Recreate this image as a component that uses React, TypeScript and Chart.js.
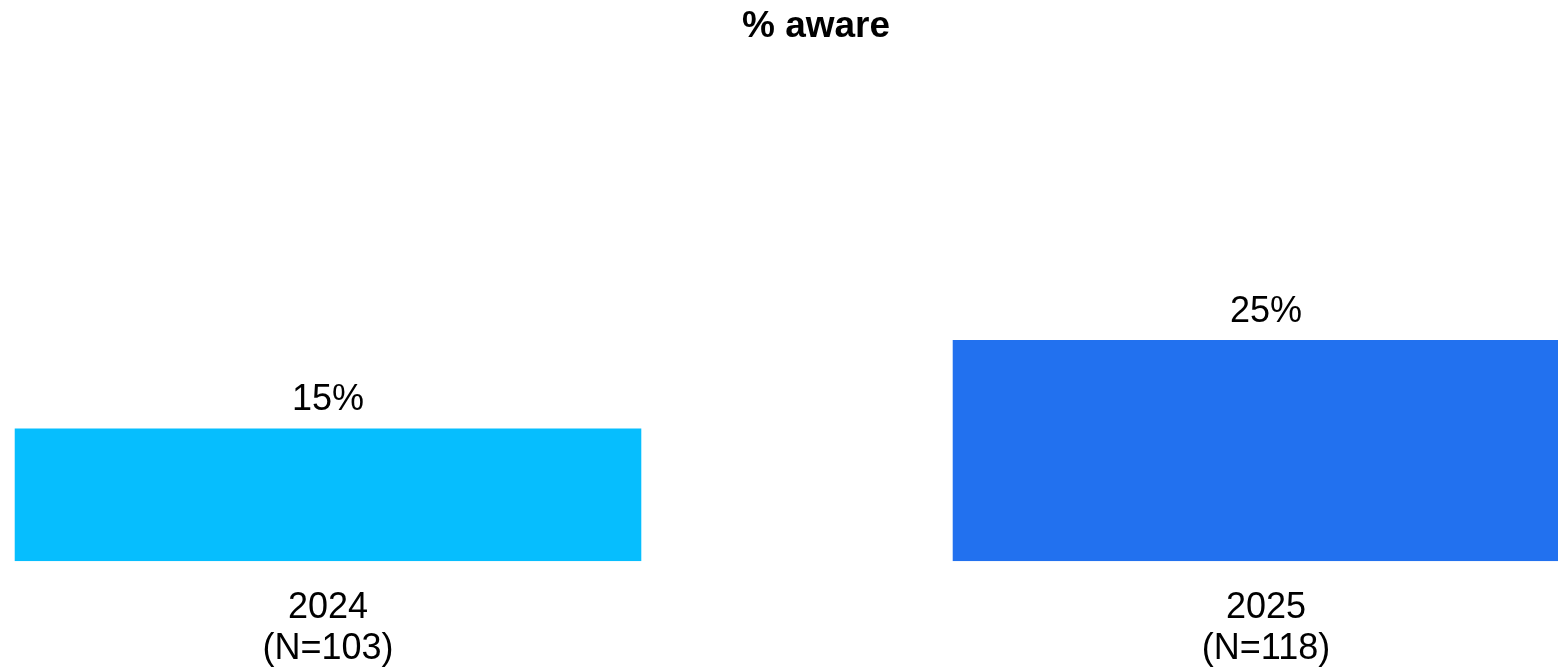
import { useEffect, useRef } from "react";
import { Chart, registerables } from "chart.js";

Chart.register(...registerables);

const titleText = "% aware";
const categories = ["2024", "2025"];
const sampleSizes = [103, 118];
const awareValues = [15, 25];
const barColors = ["#06BEFE", "#2271EF"];

const FONT = "'Liberation Sans', Arial, Helvetica, sans-serif";

export default function App() {
  const ref = useRef<HTMLCanvasElement>(null);

  useEffect(() => {
    if (!ref.current) return;
    const valueLabels = {
      id: "valueLabels",
      afterDatasetsDraw(chart: any) {
        const ctx = chart.ctx;
        const meta = chart.getDatasetMeta(0);
        ctx.save();
        ctx.font = `36px ${FONT}`;
        ctx.fillStyle = "#000000";
        ctx.textAlign = "center";
        ctx.textBaseline = "alphabetic";
        meta.data.forEach((bar: any, i: number) => {
          ctx.fillText(`${awareValues[i]}%`, bar.x, bar.y - 18);
        });
        ctx.restore();
      },
    };

    const chart = new Chart(ref.current, {
      type: "bar",
      data: {
        datasets: [
          {
            label: titleText,
            data: awareValues.map((v, i) => ({ x: i, y: v })),
            backgroundColor: barColors,
            borderWidth: 0,
            barPercentage: 0.668,
            categoryPercentage: 1,
          },
        ],
      },
      options: {
        animation: false,
        responsive: false,
        maintainAspectRatio: false,
        layout: { padding: { left: 0, right: 0, top: 0, bottom: 4 } },
        plugins: {
          legend: { display: false },
          tooltip: { enabled: false },
          title: {
            display: true,
            text: titleText,
            color: "#000000",
            font: { family: FONT, size: 37, weight: "bold", lineHeight: 1.2 },
            padding: { top: 5, bottom: 69 },
          },
        },
        scales: {
          x: {
            type: "linear",
            offset: false,
            bounds: "data",
            min: -0.3497,
            max: 1.3902,
            grid: { display: false, drawTicks: false, offset: false },
            border: { display: false },
            afterBuildTicks: (axis: any) => {
              axis.ticks = categories.map((_, i) => ({ value: i }));
            },
            ticks: {
              autoSkip: false,
              maxRotation: 0,
              padding: 27,
              color: "#000000",
              font: { family: FONT, size: 36, lineHeight: 1.12 },
              callback: (v: any) => [categories[v], `(N=${sampleSizes[v]})`],
            },
          },
          y: { display: false, min: 0, max: 50 },
        },
      },
      plugins: [valueLabels],
    } as any);

    return () => chart.destroy();
  }, []);

  return (
    <div
      style={{
        position: "fixed",
        left: 0,
        top: 0,
        width: "100vw",
        height: "100vh",
        overflow: "hidden",
        background: "#ffffff",
      }}
    >
      <canvas ref={ref} width={1632} height={700} style={{ width: 1632, height: 700, display: "block" }} />
    </div>
  );
}
